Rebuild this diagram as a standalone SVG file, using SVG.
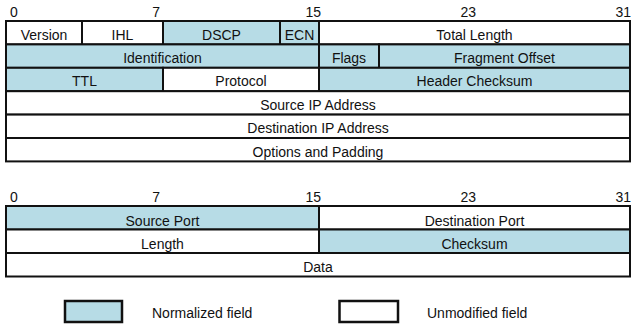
<svg xmlns="http://www.w3.org/2000/svg" width="632" height="326" viewBox="0 0 632 326">
<style>
  text { font-family: "Liberation Sans", Arial, sans-serif; font-size: 14px; fill: #111; }
  .c { text-anchor: middle; }
  .e { text-anchor: end; }
  .n rect { fill: #b7dce6; stroke: #111; stroke-width: 2; }
  .u rect { fill: #ffffff; stroke: #111; stroke-width: 2; }
  .lg { stroke-width: 2.5 !important; }
</style>
<rect width="632" height="326" fill="#ffffff"/>

<!-- IPv4 header bit scale -->
<g id="ip-scale">
  <text x="10" y="16.5">0</text>
  <text x="160" y="16.5" class="e">7</text>
  <text x="321" y="16.5" class="e">15</text>
  <text x="476" y="16.5" class="e">23</text>
  <text x="631" y="16.5" class="e">31</text>
</g>

<!-- Row 1 -->
<g id="version" class="u"><rect x="6" y="21" width="76" height="23.4"/><text x="44" y="39.5" class="c">Version</text></g>
<g id="ihl" class="u"><rect x="82" y="21" width="81" height="23.4"/><text x="122.5" y="39.5" class="c">IHL</text></g>
<g id="dscp" class="n"><rect x="163" y="21" width="117" height="23.4"/><text x="221.5" y="39.5" class="c">DSCP</text></g>
<g id="ecn" class="n"><rect x="280" y="21" width="39" height="23.4"/><text x="299.5" y="39.5" class="c">ECN</text></g>
<g id="total-length" class="u"><rect x="319" y="21" width="311" height="23.4"/><text x="474.5" y="39.5" class="c">Total Length</text></g>

<!-- Row 2 -->
<g id="identification" class="n"><rect x="6" y="44.4" width="313" height="23.4"/><text x="162.5" y="62.9" class="c">Identification</text></g>
<g id="flags" class="n"><rect x="319" y="44.4" width="60" height="23.4"/><text x="349" y="62.9" class="c">Flags</text></g>
<g id="fragment-offset" class="n"><rect x="379" y="44.4" width="251" height="23.4"/><text x="504.5" y="62.9" class="c">Fragment Offset</text></g>

<!-- Row 3 -->
<g id="ttl" class="n"><rect x="6" y="67.8" width="157" height="23.4"/><text x="84.5" y="86.3" class="c">TTL</text></g>
<g id="protocol" class="u"><rect x="163" y="67.8" width="156" height="23.4"/><text x="241" y="86.3" class="c">Protocol</text></g>
<g id="header-checksum" class="n"><rect x="319" y="67.8" width="311" height="23.4"/><text x="474.5" y="86.3" class="c">Header Checksum</text></g>

<!-- Rows 4-6 -->
<g id="source-ip" class="u"><rect x="6" y="91.2" width="624" height="23.4"/><text x="318" y="109.7" class="c">Source IP Address</text></g>
<g id="destination-ip" class="u"><rect x="6" y="114.6" width="624" height="23.4"/><text x="318" y="133.1" class="c">Destination IP Address</text></g>
<g id="options" class="u"><rect x="6" y="138" width="624" height="23.4"/><text x="318" y="156.5" class="c">Options and Padding</text></g>

<!-- UDP header bit scale -->
<g id="udp-scale">
  <text x="10" y="202">0</text>
  <text x="160" y="202" class="e">7</text>
  <text x="321" y="202" class="e">15</text>
  <text x="476" y="202" class="e">23</text>
  <text x="631" y="202" class="e">31</text>
</g>

<g id="source-port" class="n"><rect x="6" y="206" width="313" height="23.5"/><text x="162.5" y="225.5" class="c">Source Port</text></g>
<g id="destination-port" class="u"><rect x="319" y="206" width="311" height="23.5"/><text x="474.5" y="225.5" class="c">Destination Port</text></g>
<g id="length" class="u"><rect x="6" y="229.5" width="313" height="23.5"/><text x="162.5" y="249" class="c">Length</text></g>
<g id="checksum" class="n"><rect x="319" y="229.5" width="311" height="23.5"/><text x="474.5" y="249" class="c">Checksum</text></g>
<g id="data" class="u"><rect x="6" y="253" width="624" height="23.5"/><text x="318" y="272" class="c">Data</text></g>

<!-- Legend -->
<g id="legend-normalized" class="n"><rect x="65" y="301" width="57" height="21" class="lg"/><text x="152" y="318">Normalized field</text></g>
<g id="legend-unmodified" class="u"><rect x="339.5" y="301" width="58.5" height="21" class="lg"/><text x="427" y="318">Unmodified field</text></g>
</svg>
